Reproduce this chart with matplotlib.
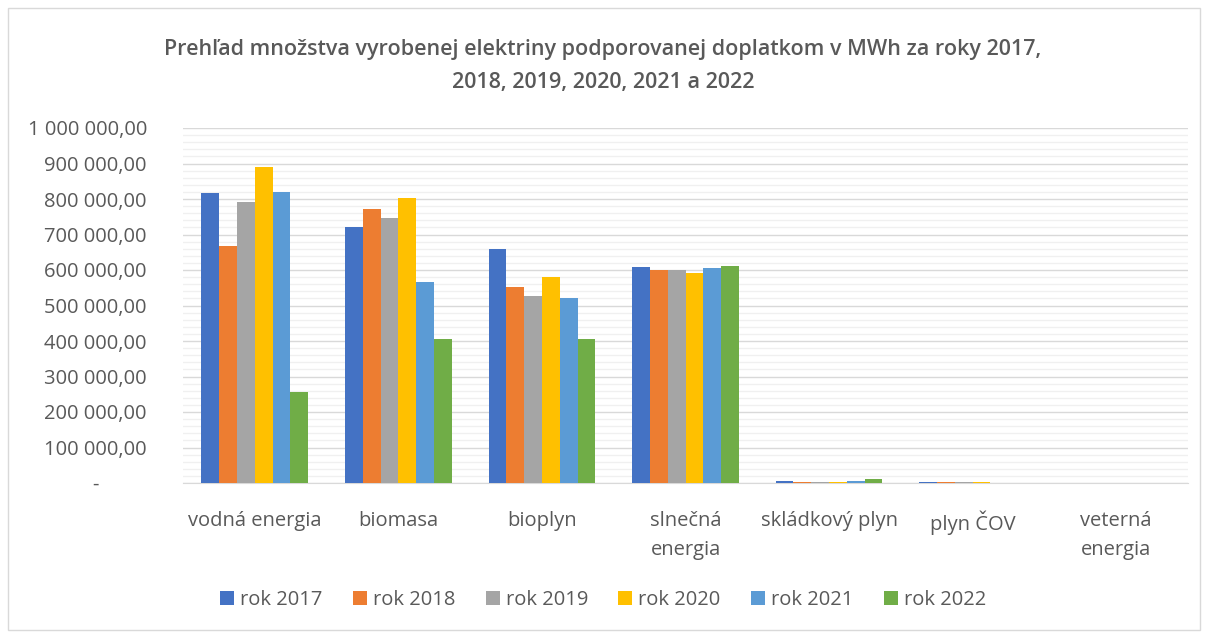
import numpy as np
import matplotlib
matplotlib.use('Agg')
import matplotlib.pyplot as plt
from matplotlib.ticker import FuncFormatter, MultipleLocator
from matplotlib.patches import Rectangle

plt.rcParams['font.family'] = ['Open Sans', 'DejaVu Sans']

categories = ['vodná energia', 'biomasa', 'bioplyn', 'slnečná\nenergia',
              'skládkový plyn', 'plyn ČOV', 'veterná\nenergia']
years = ['rok 2017', 'rok 2018', 'rok 2019', 'rok 2020', 'rok 2021', 'rok 2022']

rok_2017 = [816000, 720000, 658000, 608000, 5000, 4000, 300]
rok_2018 = [668000, 771000, 551000, 601000, 2500, 3000, 300]
rok_2019 = [792000, 747000, 528000, 601000, 2500, 3000, 300]
rok_2020 = [891000, 802000, 579000, 591000, 2500, 3000, 300]
rok_2021 = [820000, 567000, 522000, 607000, 5000, 500, 300]
rok_2022 = [257000, 405000, 405000, 612000, 11000, 500, 300]

series = [rok_2017, rok_2018, rok_2019, rok_2020, rok_2021, rok_2022]
colors = ['#4472C4', '#ED7D31', '#A5A5A5', '#FFC000', '#5B9BD5', '#70AD47']

text_color = '#595959'

fig = plt.figure(figsize=(12.06, 6.32), dpi=100)
ax = fig.add_axes([183 / 1206, 1 - 483 / 632, (1188 - 183) / 1206, (483 - 128) / 632])

x = np.arange(len(categories))
width = 0.124
for i, (vals, col, lab) in enumerate(zip(series, colors, years)):
    ax.bar(x + (i - 2.5) * width, vals, width=width, color=col, label=lab, zorder=3)

ax.set_xlim(-0.5, len(categories) - 0.5)
ax.set_ylim(0, 1000000)
ax.yaxis.set_major_locator(MultipleLocator(100000))
ax.yaxis.set_minor_locator(MultipleLocator(20000))


def fmt(v, pos):
    if v == 0:
        return '-         '
    s = f'{v:,.2f}'.replace(',', ' ').replace('.', ',')
    return s


ax.yaxis.set_major_formatter(FuncFormatter(fmt))
ax.grid(which='major', axis='y', color='#d9d9d9', linewidth=1, zorder=0)
ax.grid(which='minor', axis='y', color='#f0f0f0', linewidth=1, zorder=0)
ax.set_axisbelow(True)

for s in ['top', 'right', 'left']:
    ax.spines[s].set_visible(False)
ax.spines['bottom'].set_color('#d9d9d9')

ax.set_xticks(x)
ax.set_xticklabels(categories, linespacing=1.6)
ax.tick_params(axis='x', length=0, pad=20, labelsize=14.5, colors=text_color)
ax.tick_params(axis='y', which='both', length=0, pad=26, labelsize=14.5, colors=text_color)

fig.text(0.5, 1 - 66 / 632,
         'Prehľad množstva vyrobenej elektriny podporovanej doplatkom v MWh za roky 2017,\n'
         '2018, 2019, 2020, 2021 a 2022',
         ha='center', va='center', fontsize=15.5, color=text_color, fontweight='semibold',
         linespacing=1.75)

handles, labels = ax.get_legend_handles_labels()
fig.legend(handles, labels, loc='center', bbox_to_anchor=(0.5, 1 - 600 / 632), ncol=6,
           frameon=False, handlelength=0.7, handleheight=0.7, handletextpad=0.3,
           columnspacing=1.5, fontsize=14.5, labelcolor=text_color)

fig.patches.append(Rectangle((8 / 1206, 2 / 632), 1 - 14 / 1206, 1 - 10 / 632,
                             transform=fig.transFigure, fill=False,
                             edgecolor='#d9d9d9', linewidth=1))

fig.savefig('out.png', dpi=100, facecolor='white')
